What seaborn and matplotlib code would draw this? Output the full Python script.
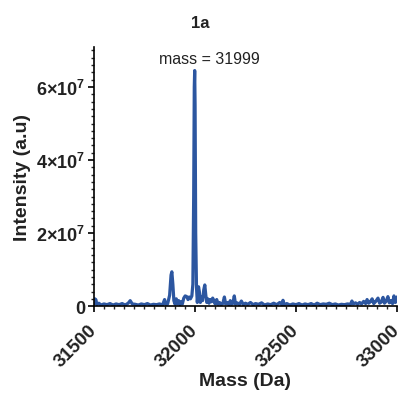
import matplotlib
matplotlib.use("Agg")
import matplotlib.pyplot as plt
import seaborn as sns
import pandas as pd
from matplotlib.ticker import MultipleLocator, FixedLocator, FixedFormatter

mass = [31500, 31505, 31510, 31515, 31525, 31535, 31550, 31565, 31580, 31595,
        31610, 31625, 31640, 31655, 31670, 31680, 31690, 31705, 31720, 31735,
        31750, 31765, 31780, 31795, 31810, 31825, 31840, 31850, 31856, 31865,
        31875, 31882, 31886, 31891, 31896, 31902, 31908, 31914, 31920, 31926,
        31932, 31938, 31945, 31952, 31960, 31966, 31972, 31978, 31985, 31990,
        31994, 31997, 31999, 32001, 32004, 32008, 32012, 32018, 32022, 32027,
        32033, 32038, 32044, 32049, 32054, 32059, 32064, 32070, 32076, 32082,
        32088, 32094, 32100, 32108, 32115, 32122, 32130, 32138, 32146, 32152,
        32160, 32168, 32175, 32181, 32188, 32195, 32201, 32210, 32220, 32230,
        32240, 32250, 32262, 32275, 32288, 32300, 32315, 32330, 32345, 32360,
        32375, 32390, 32405, 32420, 32430, 32436, 32442, 32455, 32470, 32485,
        32500, 32515, 32530, 32545, 32560, 32575, 32590, 32605, 32620, 32635,
        32650, 32665, 32680, 32695, 32710, 32725, 32740, 32755, 32770, 32777,
        32783, 32795, 32805, 32815, 32825, 32835, 32845, 32852, 32860, 32868,
        32877, 32885, 32895, 32906, 32914, 32922, 32931, 32938, 32946, 32955,
        32962, 32970, 32978, 32985, 32992, 33000]

intensity_1e6 = [0.5, 2.0, 1.8, 0.4, 0.8, 0.3, 0.6, 0.4, 0.7, 0.3,
                 0.6, 0.4, 0.7, 0.3, 0.8, 1.5, 0.6, 0.5, 0.3, 0.6,
                 0.4, 0.7, 0.3, 0.5, 0.4, 0.6, 0.3, 1.8, 0.5, 0.6,
                 3.0, 8.5, 9.4, 6.0, 1.5, 0.5, 2.0, 0.6, 1.5, 0.4,
                 1.2, 0.6, 2.2, 2.8, 2.6, 1.8, 2.5, 2.0, 2.8, 6.0,
                 30.0, 60.0, 64.5, 55.0, 20.0, 5.0, 1.0, 5.3, 4.0, 1.0,
                 2.5, 1.5, 4.5, 5.8, 3.0, 1.0, 2.0, 0.8, 1.8, 1.2,
                 2.2, 1.5, 0.6, 1.8, 0.5, 1.0, 0.4, 0.7, 2.5, 0.6,
                 1.0, 0.4, 1.5, 0.5, 0.8, 2.8, 0.5, 0.9, 0.4, 1.4,
                 0.4, 0.8, 0.5, 1.0, 0.4, 0.7, 0.5, 0.9, 0.3, 0.6,
                 0.4, 0.8, 0.4, 1.0, 0.4, 1.6, 0.4, 0.7, 0.3, 0.6,
                 0.4, 0.7, 0.3, 0.6, 0.4, 0.7, 0.3, 0.8, 0.4, 0.6,
                 0.5, 0.8, 0.4, 0.6, 0.3, 0.5, 0.4, 0.6, 0.5, 1.4,
                 0.6, 0.9, 0.5, 1.0, 0.6, 1.3, 0.7, 1.8, 0.8, 1.2,
                 2.0, 0.7, 1.3, 2.2, 0.8, 1.1, 2.4, 0.8, 1.3, 2.6,
                 0.9, 1.5, 0.7, 2.8, 1.0, 2.5]

x_ticks = [31500, 32000, 32500, 33000]
x_labels = ["31500", "32000", "32500", "33000"]
y_ticks = [0, 2e7, 4e7, 6e7]
y_labels = ["0", r"$\mathbf{2{\times}10^{7}}$", r"$\mathbf{4{\times}10^{7}}$", r"$\mathbf{6{\times}10^{7}}$"]
title = "1a"
annotation = "mass = 31999"

sns.set_style("ticks")
plt.rcParams["font.family"] = ["Liberation Sans", "DejaVu Sans"]
plt.rcParams["mathtext.fontset"] = "custom"
plt.rcParams["mathtext.rm"] = "Liberation Sans"
plt.rcParams["mathtext.bf"] = "Liberation Sans:bold"

df = pd.DataFrame({"mass": mass, "intensity": [v * 1e6 for v in intensity_1e6]})

fig = plt.figure(figsize=(4.01, 4.02), dpi=100)
ax = fig.add_axes([0.234, 0.236, 0.756, 0.645])
sns.lineplot(data=df, x="mass", y="intensity", ax=ax, color="#2c56a0", linewidth=2.3)

ax.set_xlim(31500, 33000)
ax.set_ylim(0, 7.1e7)
ax.xaxis.set_major_locator(FixedLocator(x_ticks))
ax.xaxis.set_major_formatter(FixedFormatter(x_labels))
ax.xaxis.set_minor_locator(MultipleLocator(50))
ax.yaxis.set_major_locator(FixedLocator(y_ticks))
ax.yaxis.set_major_formatter(FixedFormatter(y_labels))
ax.yaxis.set_minor_locator(MultipleLocator(2e6))

ax.tick_params(axis="both", which="major", length=4, width=1.2, pad=2, colors="black")
ax.tick_params(axis="x", which="major", pad=11)
ax.tick_params(axis="both", which="minor", length=2.5, width=1.0)

for lab in ax.get_xticklabels():
    lab.set_rotation(45)
    lab.set_ha("right")
    lab.set_va("center")
    lab.set_rotation_mode("anchor")
    lab.set_fontweight("bold")
    lab.set_fontsize(13.5)
    lab.set_color("#222222")
for lab in ax.get_yticklabels():
    lab.set_fontweight("bold")
    lab.set_fontsize(13)
    lab.set_color("#222222")

for s in ["top", "right"]:
    ax.spines[s].set_visible(False)
for s in ["left", "bottom"]:
    ax.spines[s].set_linewidth(1.2)
    ax.spines[s].set_color("black")

ax.set_xlabel("Mass (Da)", fontsize=14, fontweight="bold", labelpad=2, color="#222222")
ax.set_ylabel("Intensity (a.u)", fontsize=14, fontweight="bold", labelpad=4, color="#222222")
ax.text(32074, 6.77e7, annotation, ha="center", va="center", fontsize=11.5, color="#222222")
fig.text(0.5, 0.942, title, ha="center", va="center", fontsize=12, fontweight="bold", color="#222222")

fig.savefig("out.png", dpi=100)
